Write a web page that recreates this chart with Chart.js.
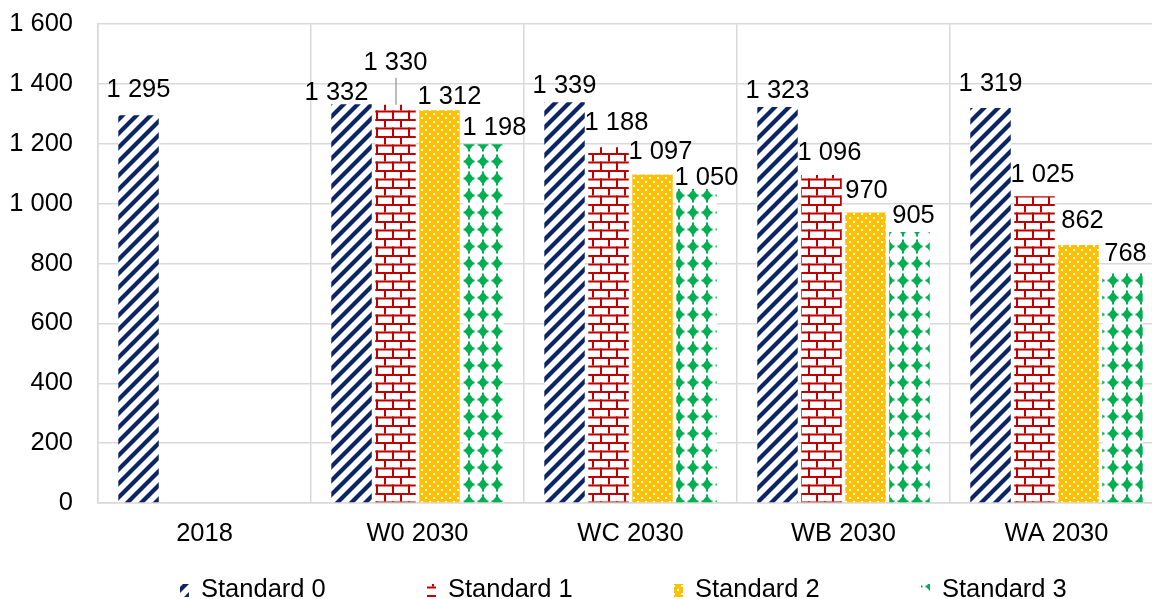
<!DOCTYPE html>
<html>
<head>
<meta charset="utf-8">
<script src="https://cdn.jsdelivr.net/npm/chart.js@4.4.1/dist/chart.umd.min.js"></script>
<style>
  html, body { margin: 0; padding: 0; overflow: hidden; background: #fff; }
  #wrap { position: absolute; left: 0; top: 0; width: 1163px; height: 599px; }
</style>
</head>
<body>
<div id="wrap"><canvas id="myBarChart"></canvas></div>
<script>
// data
var categories = ["2018", "W0 2030", "WC 2030", "WB 2030", "WA 2030"];
var seriesNames = ["Standard 0", "Standard 1", "Standard 2", "Standard 3"];
var standard0 = [1295, 1332, 1339, 1323, 1319];
var standard1 = [null, 1330, 1188, 1096, 1025];
var standard2 = [null, 1312, 1097, 970, 862];
var standard3 = [null, 1198, 1050, 905, 768];
var yTicks = [0, 200, 400, 600, 800, 1000, 1200, 1400, 1600];

// hand placed label nudges (dx, dy from bar top centre), like Excel's moved labels
var labelNudge = [
  [[0, -27], [-15, -13], [0, -18], [0, -18], [0, -26]],
  [null, [0, -44], [8, -26], [8, -24], [8, -23]],
  [null, [10, -15], [8, -25], [1, -24], [4, -26]],
  [null, [11, -18], [10, -13], [4, -18], [3, -21]]
];

var FONT = '"Liberation Sans", Arial, sans-serif';
var FS = 25.5;
Chart.defaults.font.family = FONT;
Chart.defaults.font.size = FS;
Chart.defaults.color = '#000';

var ctx = document.getElementById("myBarChart");
var c2d = ctx.getContext('2d');

function makePattern(w, h, draw) {
  var t = document.createElement('canvas');
  t.width = w; t.height = h;
  var g = t.getContext('2d');
  draw(g, w, h);
  return c2d.createPattern(t, 'repeat');
}

var stripes = makePattern(14, 14, function (g, w, h) {
  g.fillStyle = '#fff'; g.fillRect(0, 0, w, h);
  g.strokeStyle = '#0b2566'; g.lineWidth = 4.2;
  [-14, 0, 14].forEach(function (o) {
    g.beginPath(); g.moveTo(o - 2, h + 2); g.lineTo(o + w + 2, -2); g.stroke();
  });
});
var bricks = makePattern(16, 17, function (g, w, h) {
  g.fillStyle = '#fff'; g.fillRect(0, 0, w, h);
  g.fillStyle = '#c00000';
  g.fillRect(0, 0, w, 2); g.fillRect(0, 8.5, w, 2);
  g.fillRect(0, 0, 2, 8.5); g.fillRect(8, 8.5, 2, 8.5);
});
var dots = makePattern(8, 8, function (g, w, h) {
  g.fillStyle = '#ffc000'; g.fillRect(0, 0, w, h);
  g.fillStyle = '#fff';
  g.fillRect(1, 1, 2, 2); g.fillRect(5, 5, 2, 2);
});
var diamonds = makePattern(14, 17, function (g, w, h) {
  g.fillStyle = '#fff'; g.fillRect(0, 0, w, h);
  g.fillStyle = '#00b050';
  g.beginPath();
  g.moveTo(7, 2.5); g.lineTo(12, 8.5); g.lineTo(7, 14.5); g.lineTo(2, 8.5);
  g.closePath(); g.fill();
  g.fillRect(1.5, 7.5, 11, 2); g.fillRect(6, 1.5, 2, 14);
});
var patterns = [stripes, bricks, dots, diamonds];

function fmt(v) {
  if (v >= 1000) return Math.floor(v / 1000) + ' ' + String(v % 1000).padStart(3, '0');
  return String(v);
}

var barLabels = {
  id: 'barLabels',
  afterDatasetsDraw: function (chart) {
    var g = chart.ctx;
    g.save();
    g.font = FS + 'px ' + FONT;
    g.fillStyle = '#000';
    g.textAlign = 'center';
    g.textBaseline = 'alphabetic';
    chart.data.datasets.forEach(function (ds, di) {
      chart.getDatasetMeta(di).data.forEach(function (bar, i) {
        var v = ds.data[i];
        if (v == null) return;
        var n = labelNudge[di][i] || [0, -23];
        var cx = bar.x + n[0], cy = bar.y + n[1];
        g.fillText(fmt(v), cx, cy + 0.358 * FS);
        if (n[1] < -35) {
          // leader line to the bar
          g.strokeStyle = '#a6a6a6'; g.lineWidth = 1.5;
          g.beginPath(); g.moveTo(bar.x + 0.5, cy + 17); g.lineTo(bar.x + 0.5, bar.y); g.stroke();
        }
      });
    });
    g.restore();
  }
};

var bottomLegend = {
  id: 'bottomLegend',
  afterDraw: function (chart) {
    var g = chart.ctx;
    g.save();
    g.font = FS + 'px ' + FONT;
    g.textAlign = 'left';
    g.textBaseline = 'alphabetic';
    seriesNames.forEach(function (name, i) {
      var x = 180 + i * 247;
      g.fillStyle = patterns[i];
      g.fillRect(x, 584, 9, 13);
      g.fillStyle = '#000';
      g.fillText(name, x + 21, 597);
    });
    g.restore();
  }
};

var myBarChart = new Chart(ctx, {
  type: 'bar',
  data: {
    labels: categories,
    datasets: [standard0, standard1, standard2, standard3].map(function (d, i) {
      return {
        label: seriesNames[i],
        data: d,
        backgroundColor: patterns[i],
        borderWidth: 0,
        categoryPercentage: 0.826,
        barPercentage: 0.92
      };
    })
  },
  options: {
    responsive: true,
    maintainAspectRatio: false,
    animation: false,
    devicePixelRatio: 1,
    layout: { padding: { top: 24, right: 0, bottom: 50, left: 0 } },
    scales: {
      x: {
        afterFit: function (s) { s.height = 46; },
        grid: { color: '#d9d9d9', lineWidth: 1.5, drawTicks: false, offset: true },
        border: { color: '#d9d9d9', width: 1.5 },
        ticks: { padding: 16, color: '#000' }
      },
      y: {
        min: 0,
        max: 1600,
        afterFit: function (s) { s.width = 98; s.paddingTop = 0; s.paddingBottom = 0; },
        afterBuildTicks: function (s) { s.ticks = yTicks.map(function (v) { return { value: v }; }); },
        grid: { color: '#d9d9d9', lineWidth: 1.5, drawTicks: false },
        border: { color: '#d9d9d9', width: 1.5 },
        ticks: { padding: 25, color: '#000', callback: function (v) { return fmt(v); } }
      }
    },
    plugins: {
      legend: { display: false },
      tooltip: { enabled: false }
    }
  },
  plugins: [barLabels, bottomLegend]
});
</script>
</body>
</html>
